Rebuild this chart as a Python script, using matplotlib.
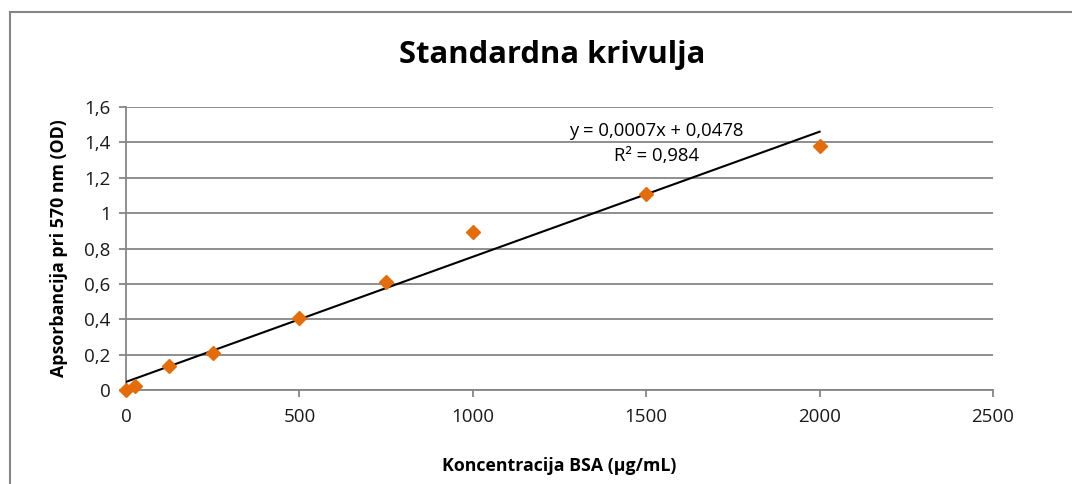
import numpy as np
import matplotlib.pyplot as plt
from matplotlib.lines import Line2D
from matplotlib.ticker import FuncFormatter, MultipleLocator

plt.rcParams['font.family'] = ['Open Sans', 'DejaVu Sans']

# BSA standard curve data
konc = [0, 25, 125, 250, 500, 750, 1000, 1500, 2000]
aps = [0.0, 0.023, 0.136, 0.209, 0.407, 0.61, 0.893, 1.107, 1.378]
slope_txt = "0,0007"
icpt_txt = "0,0478"
r2_txt = "0,984"

grey = '#868686'
orange = '#E46C0A'

fig = plt.figure(figsize=(10.72, 4.84), dpi=100)
ax = fig.add_axes([126/1072, 1 - 390/484, (993-126)/1072, (390-107)/484])

# linear trendline fitted from the data
k, n = np.polyfit(konc, aps, 1)
xl = np.array([0, max(konc)])
ax.plot(xl, k*xl + n, color='black', lw=1.5, zorder=3)
ax.plot(konc, aps, 'D', color=orange, ms=7.5, mec=orange, zorder=4, clip_on=False)

ax.set_xlim(0, 2500)
ax.set_ylim(0, 1.6)
ax.xaxis.set_major_locator(MultipleLocator(500))
ax.yaxis.set_major_locator(MultipleLocator(0.2))
comma = FuncFormatter(lambda v, p: ('%g' % round(v, 2)).replace('.', ','))
ax.yaxis.set_major_formatter(comma)

ax.grid(axis='y', color=grey, lw=1.3)
ax.set_axisbelow(True)
for s in ['top', 'right']:
    ax.spines[s].set_visible(False)
for s in ['left', 'bottom']:
    ax.spines[s].set_color(grey)
    ax.spines[s].set_linewidth(1.3)
ax.tick_params(axis='both', colors=grey, width=1.3, length=5, labelcolor='#1a1a1a', labelsize=13.5)
ax.tick_params(axis='x', pad=8)
ax.tick_params(axis='y', pad=6)

ax.set_xlabel('Koncentracija BSA (µg/mL)', fontsize=12.8, fontweight='bold', labelpad=22)
ax.set_ylabel('Apsorbancija pri 570 nm (OD)', fontsize=12.8, fontweight='bold', labelpad=12)

ax.text(0.612, 0.915, 'y = %sx + %s' % (slope_txt, icpt_txt), transform=ax.transAxes,
        ha='center', va='center', fontsize=13.3)
ax.text(0.612, 0.827, 'R² = %s' % r2_txt, transform=ax.transAxes,
        ha='center', va='center', fontsize=13.3)

fig.text(552/1072, 1 - 55/484, 'Standardna krivulja', ha='center', va='center',
         fontsize=22.3, fontweight='bold')

# outer chart border (only top and left visible)
fig.add_artist(Line2D([10/1072, 10/1072], [0, 1 - 12/484], color=grey, lw=1.5))
fig.add_artist(Line2D([10/1072, 1], [1 - 12/484, 1 - 12/484], color=grey, lw=1.5))

fig.savefig('out.png', dpi=100)
